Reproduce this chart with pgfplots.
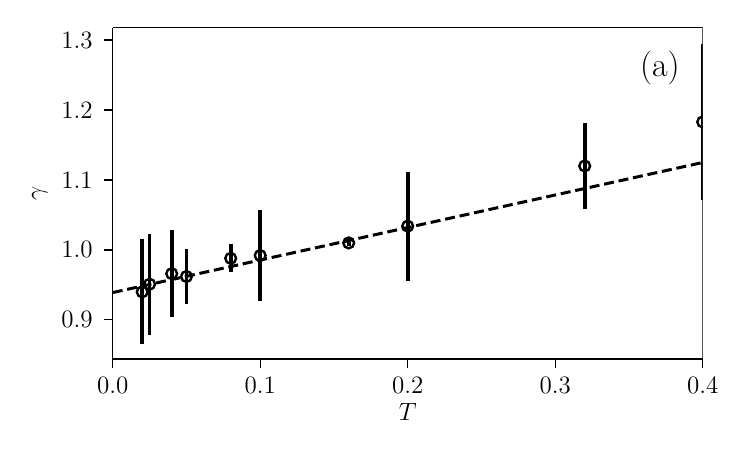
\RequirePackage{fix-cm}
\documentclass[border=0pt]{standalone}
\usepackage{fontspec}
\usepackage{pgfplots}
\pgfplotsset{compat=1.18}

\begin{document}
\begin{tikzpicture}
\useasboundingbox (-56.35pt,-51.5pt) rectangle (317.15pt,179.5pt);
\begin{axis}[
    scale only axis,
    width=295pt,
    height=165.75pt,
    xmin=0, xmax=0.4,
    ymin=0.844, ymax=1.318,
    xtick={0,0.1,0.2,0.3,0.4},
    ytick={0.9,1.0,1.1,1.2,1.3},
    xticklabel style={/pgf/number format/.cd,fixed,fixed zerofill,precision=1},
    yticklabel style={/pgf/number format/.cd,fixed,fixed zerofill,precision=1},
    tick align=outside,
    axis x line*=bottom, axis y line*=left,
    axis line style={line width=0.6pt},
    tick style={line width=0.6pt, black},
    major tick length=4.5pt,
    x axis line style={-}, y axis line style={-},
    every tick label/.append style={font=\fontsize{12.5}{14}\selectfont},
    xticklabel shift=1pt,
    yticklabel shift=2pt,
    label style={font=\fontsize{12.5}{14}\selectfont},
    xlabel={$T$},
    xlabel style={yshift=2pt},
    ylabel={$\gamma$},
    clip marker paths=true,
]
% upper and right frame lines
\draw[line width=0.6pt] (rel axis cs:0,1) -- (rel axis cs:1,1) -- (rel axis cs:1,0);

\addplot[black, line width=1.5pt, dash pattern=on 5pt off 2.4pt, forget plot]
    coordinates {(0,0.939) (0.4,1.125)};

\addplot[
    only marks, mark=o, mark size=2.7pt,
    mark options={line width=1.2pt, black, fill=none},
    error bars/.cd, y dir=both, y explicit,
    error mark=none,
    error bar style={line width=1.8pt, black},
] table[x=T, y=g, y error=e] {
T      g      e
0.02   0.940  0.075
0.025  0.951  0.072
0.04   0.966  0.062
0.05   0.962  0.039
0.08   0.988  0.020
0.10   0.992  0.065
0.16   1.010  0.005
0.20   1.034  0.078
0.32   1.120  0.062
0.40   1.183  0.112
};

\node[font=\fontsize{17}{19}\selectfont, anchor=center] at (axis cs:0.371,1.26) {(a)};
\end{axis}
\end{tikzpicture}
\end{document}
